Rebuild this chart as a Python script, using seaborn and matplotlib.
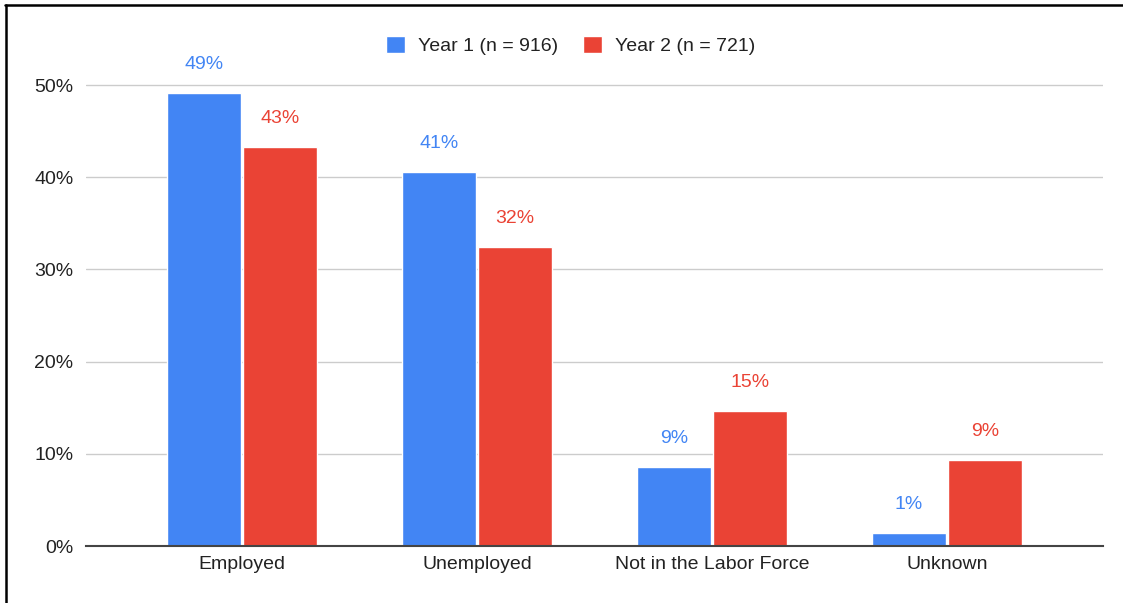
import matplotlib
matplotlib.use("Agg")
import matplotlib.pyplot as plt
from matplotlib.lines import Line2D
import seaborn as sns
import pandas as pd

# Employment status shares (%) by program year
categories = ["Employed", "Unemployed", "Not in the Labor Force", "Unknown"]
series = ["Year 1 (n = 916)", "Year 2 (n = 721)"]
year1 = [49.1, 40.6, 8.6, 1.4]
year2 = [43.3, 32.4, 14.6, 9.3]
yticks = [0, 10, 20, 30, 40, 50]
colors = ["#4285F4", "#EA4335"]

df = pd.DataFrame({
    "category": categories * 2,
    "series": [series[0]] * len(categories) + [series[1]] * len(categories),
    "value": year1 + year2,
})

sns.set_theme(style="white")
plt.rcParams["font.family"] = ["Liberation Sans", "DejaVu Sans"]
FS = 14

fig = plt.figure(figsize=(11.23, 6.03), dpi=100)
ax = fig.add_axes([0.0766, 0.0945, 0.9056, 0.7951])

sns.barplot(data=df, x="category", y="value", hue="series",
            order=categories, hue_order=series, palette=colors,
            width=0.65, gap=0.03, saturation=1, errorbar=None, ax=ax)

# value labels above each bar, coloured like their series
for container, color in zip(ax.containers, colors):
    ax.bar_label(container, fmt="{:.0f}%", padding=14.5, color=color,
                 fontsize=FS)

ax.set_xlim(-0.665, 3.665)
ax.set_ylim(0, 52)
ax.set_yticks(yticks)
ax.set_yticklabels([f"{t}%" for t in yticks])
ax.set_xlabel("")
ax.set_ylabel("")

ax.yaxis.grid(True, color="#cccccc", lw=1)
ax.set_axisbelow(True)
for side in ["top", "right", "left"]:
    ax.spines[side].set_visible(False)
ax.spines["bottom"].set_color("#444444")
ax.spines["bottom"].set_linewidth(1.5)
ax.tick_params(axis="both", length=0, labelsize=FS, labelcolor="#222222")
ax.tick_params(axis="y", pad=9)
ax.tick_params(axis="x", pad=7)

handles, labels = ax.get_legend_handles_labels()
ax.legend_.remove()
fig.legend(handles, labels, loc="center", bbox_to_anchor=(0.508, 0.924),
           ncol=2, frameon=False, handlelength=0.95, handleheight=0.95,
           handletextpad=0.67, columnspacing=1.3, fontsize=FS,
           labelcolor="#222222")

# outer frame along the top and left edges
fig.add_artist(Line2D([5 / 1123, 1], [1 - 5 / 603, 1 - 5 / 603],
                      transform=fig.transFigure, color="black", lw=1.8))
fig.add_artist(Line2D([6 / 1123, 6 / 1123], [0, 1 - 5 / 603],
                      transform=fig.transFigure, color="black", lw=1.8))

fig.savefig("out.png", dpi=100, facecolor="white")
